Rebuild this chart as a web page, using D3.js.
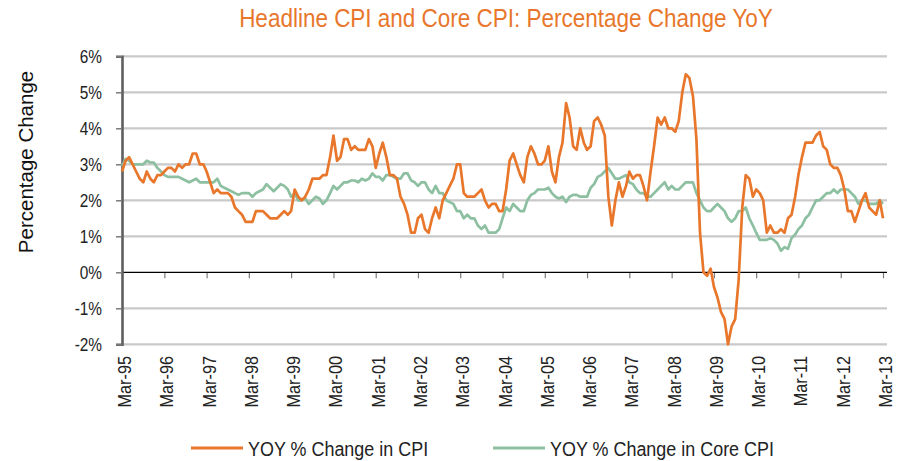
<!DOCTYPE html>
<html>
<head>
<meta charset="utf-8">
<script src="https://cdn.jsdelivr.net/npm/d3@7"></script>
<style>
	body { margin: 0; background: #fff; }
	svg { display: block; }
	text { font-family: "Liberation Sans", Arial, sans-serif; }
</style>
</head>
<body>
<script>
const width = 900;
const height = 461;

// monthly series, Mar-95 .. Mar-13
const firstMonth = new Date(1995, 2, 1);
const lastMonth = new Date(2013, 2, 1);

const cpiYoY = [
	2.8, 3.1, 3.2, 3.0, 2.8, 2.6, 2.5, 2.8, 2.6, 2.5,            // 1995 (from Mar)
	2.7, 2.7, 2.8, 2.9, 2.9, 2.8, 3.0, 2.9, 3.0, 3.0, 3.3, 3.3,  // 1996
	3.0, 3.0, 2.8, 2.5, 2.2, 2.3, 2.2, 2.2, 2.2, 2.1, 1.8, 1.7,  // 1997
	1.6, 1.4, 1.4, 1.4, 1.7, 1.7, 1.7, 1.6, 1.5, 1.5, 1.5, 1.6,  // 1998
	1.7, 1.6, 1.7, 2.3, 2.1, 2.0, 2.1, 2.3, 2.6, 2.6, 2.6, 2.7,  // 1999
	2.7, 3.2, 3.8, 3.1, 3.2, 3.7, 3.7, 3.4, 3.5, 3.4, 3.4, 3.4,  // 2000
	3.7, 3.5, 2.9, 3.3, 3.6, 3.2, 2.7, 2.7, 2.6, 2.1, 1.9, 1.6,  // 2001
	1.1, 1.1, 1.5, 1.6, 1.2, 1.1, 1.5, 1.8, 1.5, 2.0, 2.2, 2.4,  // 2002
	2.6, 3.0, 3.0, 2.2, 2.1, 2.1, 2.1, 2.2, 2.3, 2.0, 1.8, 1.9,  // 2003
	1.9, 1.7, 1.7, 2.3, 3.1, 3.3, 3.0, 2.7, 2.5, 3.2, 3.5, 3.3,  // 2004
	3.0, 3.0, 3.1, 3.5, 2.8, 2.5, 3.2, 3.6, 4.7, 4.3, 3.5, 3.4,  // 2005
	4.0, 3.6, 3.4, 3.5, 4.2, 4.3, 4.1, 3.8, 2.1, 1.3, 2.0, 2.5,  // 2006
	2.1, 2.4, 2.8, 2.6, 2.7, 2.7, 2.4, 2.0, 2.8, 3.5, 4.3, 4.1,  // 2007
	4.3, 4.0, 4.0, 3.9, 4.2, 5.0, 5.5, 5.4, 4.9, 3.7, 1.1, 0.0,  // 2008
	-0.1, 0.1, -0.4, -0.7, -1.1, -1.3, -2.0, -1.5, -1.3, -0.2, 1.8, 2.7, // 2009
	2.6, 2.1, 2.3, 2.2, 2.0, 1.1, 1.3, 1.1, 1.1, 1.2, 1.1, 1.5,  // 2010
	1.6, 2.1, 2.7, 3.2, 3.6, 3.6, 3.6, 3.8, 3.9, 3.5, 3.4, 3.0,  // 2011
	2.9, 2.9, 2.7, 2.3, 1.7, 1.7, 1.4, 1.7, 2.0, 2.2, 1.8, 1.7,  // 2012
	1.6, 2.0, 1.5                                                 // 2013
];

const coreYoY = [
	2.95, 3.15, 3.1, 3.0, 3.0, 3.0, 3.0, 3.1, 3.05, 3.05,             // 1995 (from Mar)
	2.9, 2.8, 2.7, 2.65, 2.65, 2.65, 2.65, 2.6, 2.55, 2.5, 2.55, 2.6,  // 1996
	2.5, 2.5, 2.5, 2.5, 2.5, 2.6, 2.4, 2.35, 2.3, 2.25, 2.2, 2.15,     // 1997
	2.2, 2.2, 2.2, 2.1, 2.2, 2.25, 2.3, 2.45, 2.35, 2.25, 2.35, 2.45,  // 1998
	2.4, 2.3, 2.1, 2.2, 2.0, 2.0, 2.05, 1.9, 2.0, 2.1, 2.05, 1.9,      // 1999
	2.0, 2.2, 2.4, 2.3, 2.4, 2.5, 2.5, 2.55, 2.55, 2.5, 2.6, 2.55,     // 2000
	2.6, 2.75, 2.65, 2.65, 2.55, 2.7, 2.7, 2.65, 2.6, 2.6, 2.75, 2.75, // 2001
	2.55, 2.5, 2.4, 2.5, 2.5, 2.3, 2.2, 2.4, 2.2, 2.2, 2.0, 1.95,      // 2002
	1.9, 1.7, 1.7, 1.5, 1.6, 1.5, 1.5, 1.3, 1.2, 1.3, 1.1, 1.1,        // 2003
	1.1, 1.2, 1.5, 1.8, 1.7, 1.9, 1.8, 1.7, 1.7, 2.0, 2.15, 2.2,       // 2004
	2.3, 2.3, 2.3, 2.35, 2.2, 2.1, 2.05, 2.1, 1.95, 2.1, 2.15, 2.15,   // 2005
	2.1, 2.1, 2.1, 2.35, 2.45, 2.65, 2.7, 2.8, 2.9, 2.75, 2.6, 2.6,    // 2006
	2.65, 2.7, 2.5, 2.45, 2.3, 2.2, 2.2, 2.1, 2.1, 2.2, 2.3, 2.4,      // 2007
	2.5, 2.3, 2.4, 2.3, 2.3, 2.4, 2.5, 2.5, 2.5, 2.2, 2.0, 1.8,        // 2008
	1.7, 1.7, 1.8, 1.9, 1.8, 1.7, 1.5, 1.4, 1.5, 1.7, 1.7, 1.8,        // 2009
	1.5, 1.3, 1.1, 0.9, 0.9, 0.9, 0.95, 0.9, 0.8, 0.6, 0.7, 0.65,      // 2010
	0.95, 1.05, 1.2, 1.3, 1.5, 1.6, 1.8, 2.0, 2.0, 2.1, 2.2, 2.2,      // 2011
	2.3, 2.2, 2.3, 2.3, 2.3, 2.2, 2.1, 1.9, 2.0, 2.0, 1.9, 1.9,        // 2012
	1.9, 2.0, 1.9                                                       // 2013
];

const yTicks = [-2, -1, 0, 1, 2, 3, 4, 5, 6];
const xTickDates = d3.timeYear.range(new Date(1995, 0, 1), new Date(2014, 0, 1))
	.map(d => new Date(d.getFullYear(), 2, 1));

const seriesNames = ["YOY % Change in CPI", "YOY % Change in Core CPI"];
const titleText = "Headline CPI and Core CPI: Percentage Change YoY";

const orange = "#E8772C";
const green = "#8DBFA1";
const squeeze = 0.88;	// the chart's font is a narrow sans

const months = d3.timeMonth.range(firstMonth, d3.timeMonth.offset(lastMonth, 1));

const x = d3.scaleTime().domain([firstMonth, lastMonth]).range([122, 883]);
const y = d3.scaleLinear().domain([-2, 6]).range([344.3, 56.3]);

const svg = d3.select("body").append("svg")
	.attr("width", width)
	.attr("height", height);

// narrow text: a group placed at (tx, ty), rotated, text squeezed inside it
function narrowText(parent, tx, ty, rot, size, fill, anchor, str, k) {
	const g = parent.append("g")
		.attr("transform", `translate(${tx},${ty})` + (rot ? ` rotate(${rot})` : ""));
	return g.append("text")
		.attr("transform", `scale(${k || squeeze},1)`)
		.attr("text-anchor", anchor)
		.attr("font-size", size)
		.attr("fill", fill)
		.text(str);
}

// title
narrowText(svg, 506, 27, 0, 25, orange, "middle", titleText, 0.9);

// gridlines
svg.append("g").selectAll("line")
	.data(yTicks.filter(d => d != 0))
	.enter().append("line")
	.attr("x1", 122).attr("x2", 887)
	.attr("y1", d => y(d)).attr("y2", d => y(d))
	.attr("stroke", "#c9c9c9")
	.attr("stroke-width", 2.2);

// x axis on the zero line
const xAxis = svg.append("g")
	.attr("transform", `translate(0,${y(0)})`)
	.call(d3.axisBottom(x).tickValues(xTickDates).tickSize(6).tickFormat(""));
xAxis.select(".domain").remove();
xAxis.selectAll(".tick line").attr("stroke", "#7a7a7a").attr("stroke-width", 1.2);
svg.append("line")
	.attr("x1", 122).attr("x2", 887)
	.attr("y1", y(0)).attr("y2", y(0))
	.attr("stroke", "#000").attr("stroke-width", 1.2);

// x labels along the bottom
const fmtMonth = d3.timeFormat("Mar-%y");
xTickDates.forEach(d => {
	narrowText(svg, x(d) + 9, 356, -90, 18.5, "#222", "end", fmtMonth(d));
});

// y axis
const yAxis = svg.append("g")
	.attr("transform", "translate(122,0)")
	.call(d3.axisLeft(y).tickValues(yTicks).tickSize(6).tickFormat(""));
yAxis.select(".domain").attr("stroke", "#5f5f5f").attr("stroke-width", 2.6);
yAxis.selectAll(".tick line").attr("stroke", "#7a7a7a").attr("stroke-width", 1.5);
yTicks.forEach(v => {
	narrowText(svg, 102, y(v), 0, 17.5, "#222", "end", v + "%")
		.attr("dy", "0.36em");
});

svg.append("text")
	.attr("transform", "translate(33,162) rotate(-90)")
	.attr("text-anchor", "middle")
	.attr("font-size", 20.5)
	.attr("fill", "#111")
	.text("Percentage Change");

// lines
const line = d3.line()
	.x((d, i) => x(months[i]))
	.y(d => y(d));

svg.append("path")
	.datum(coreYoY)
	.attr("fill", "none")
	.attr("stroke", green)
	.attr("stroke-width", 2.7)
	.attr("stroke-linejoin", "round")
	.attr("d", line);

svg.append("path")
	.datum(cpiYoY)
	.attr("fill", "none")
	.attr("stroke", orange)
	.attr("stroke-width", 2.7)
	.attr("stroke-linejoin", "round")
	.attr("d", line);

// legend
seriesNames.forEach((name, i) => {
	const lx = i == 0 ? 191 : 493;
	svg.append("line")
		.attr("x1", lx).attr("x2", lx + 52)
		.attr("y1", 448).attr("y2", 448)
		.attr("stroke", i == 0 ? orange : green)
		.attr("stroke-width", 3);
	narrowText(svg, lx + 57, 456, 0, 21, "#222", "start", name, 0.855);
});
</script>
</body>
</html>
